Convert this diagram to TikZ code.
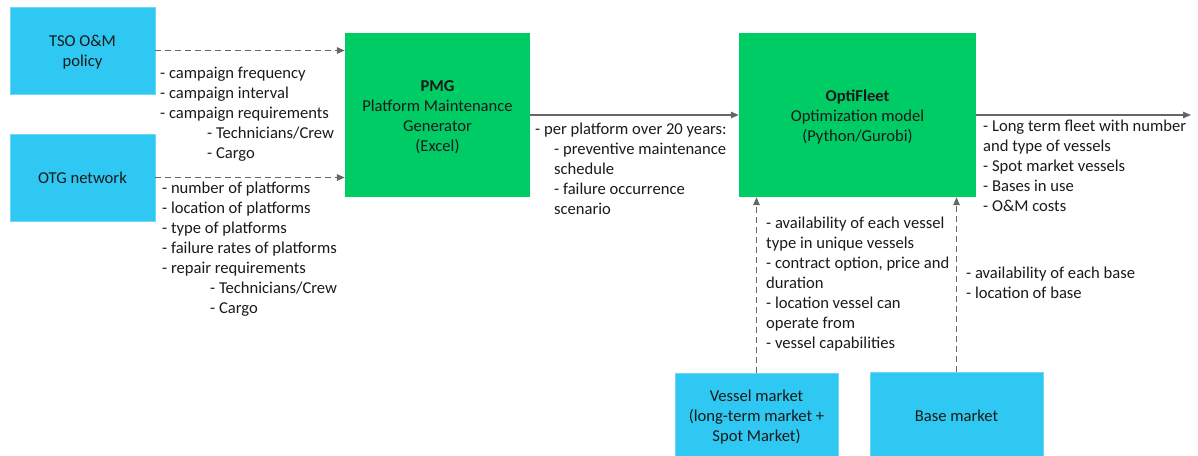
\documentclass[tikz,border=0pt]{standalone}
\usepackage{fontspec}
\setmainfont{Carlito}
\usetikzlibrary{arrows.meta}
\definecolor{boxblue}{HTML}{2FC8F2}
\definecolor{boxgreen}{HTML}{00CC66}
\definecolor{linegray}{HTML}{666666}
\definecolor{txt}{HTML}{1A1A1A}
\tikzset{
  bluebox/.style={fill=boxblue, draw=boxblue!70!white, line width=0.8pt, align=center, inner sep=0pt, text=txt},
  greenbox/.style={fill=boxgreen, draw=none, align=center, inner sep=0pt, text=txt},
  lbl/.style={anchor=north west, align=left, inner sep=0pt, text=txt, execute at begin node=\strut},
  flow/.style={draw=linegray, line width=1.3pt, -{Triangle[length=8pt,width=6.5pt]}},
  dflow/.style={flow, dash pattern=on 6pt off 4pt},
}
\begin{document}
\begin{tikzpicture}[x=1pt,y=-1pt, font=\fontsize{16.6}{20}\selectfont]
\useasboundingbox (0,0) rectangle (1198,455);
% boxes
\node[bluebox, minimum width=145pt, minimum height=87pt] (tso) at (82.5,50.5) {\rule{0pt}{14pt}TSO O\&M\\policy};
\node[bluebox, minimum width=145pt, minimum height=87pt] (otg) at (82.5,177.5) {OTG network};
\node[greenbox, minimum width=185pt, minimum height=164pt] (pmg) at (437.5,115) {\rule{0pt}{15pt}\textbf{PMG}\\Platform Maintenance\\Generator\\(Excel)};
\node[greenbox, minimum width=237pt, minimum height=164pt] (opt) at (857.5,115) {\rule{0pt}{15pt}\textbf{OptiFleet}\\Optimization model\\(Python/Gurobi)};
\node[bluebox, minimum width=163pt, minimum height=88pt] (ves) at (756.5,417) {Vessel market\\(long-term market +\\Spot Market)};
\node[bluebox, minimum width=173pt, minimum height=88pt] (bas) at (956.5,416) {Base market};
\coordinate (out) at (1191,115);
% connectors
\draw[dflow] (tso.east) -- (tso.east -| pmg.west);
\draw[dflow] (otg.east) -- (otg.east -| pmg.west);
\draw[flow] (pmg.east) -- (opt.west);
\draw[flow] (opt.east) -- (out);
\draw[dflow] (ves.north) -- (ves.north |- opt.south);
\draw[dflow] (bas.north) -- (bas.north |- opt.south);
% labels
\node[lbl] (l1) at (160,67) {- campaign frequency\\- campaign interval\\- campaign requirements\\\hspace{47pt}- Technicians/Crew\\\hspace{47pt}- Cargo};
\node[lbl] (l2) at (162,182) {- number of platforms\\- location of platforms\\- type of platforms\\- failure rates of platforms\\- repair requirements\\\hspace{48pt}- Technicians/Crew\\\hspace{48pt}- Cargo};
\node[lbl] (l3) at (535,123) {- per platform over 20 years:\\\hspace{19pt}- preventive maintenance\\\hspace{19pt}schedule\\\hspace{19pt}- failure occurrence\\\hspace{19pt}scenario};
\node[lbl] (l4) at (983,120) {- Long term fleet with number\\and type of vessels\\- Spot market vessels\\- Bases in use\\- O\&M costs};
\node[lbl] (l5) at (766,217) {- availability of each vessel\\type in unique vessels\\- contract option, price and\\duration\\- location vessel can\\operate from\\- vessel capabilities};
\node[lbl] (l6) at (966,267) {- availability of each base\\- location of base};
\end{tikzpicture}
\end{document}
